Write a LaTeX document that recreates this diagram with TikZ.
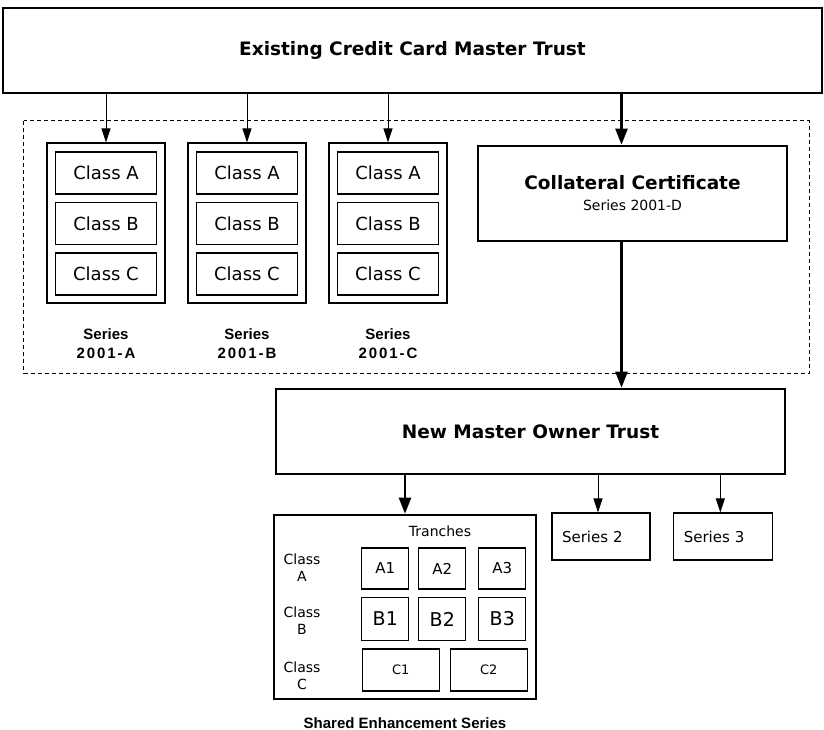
\documentclass[tikz,border=0pt]{standalone}
\usepackage{fontspec}
\setmainfont{DejaVu Sans}
\newfontfamily\lblfont{Liberation Sans}
\newfontfamily\lblwide{Liberation Sans}[LetterSpace=13]
\usetikzlibrary{arrows.meta}
\tikzset{
  thinbox/.style={draw,line width=1.1pt,inner sep=0pt},
  thickbox/.style={draw,line width=2.6pt,inner sep=0pt},
  arr/.style={-{Triangle[length=14pt,width=9pt]},line width=1pt},
  thickarr/.style={-{Triangle[length=16pt,width=12pt]},line width=2.4pt},
  head/.style={font=\fontsize{18.5}{22}\selectfont\bfseries},
  lbl/.style={font=\lblfont\fontsize{15}{19}\selectfont\bfseries,align=center}
}
\begin{document}
\begin{tikzpicture}[x=1pt,y=-1pt]
  \useasboundingbox (0,0) rectangle (824,730);
  \node[thinbox,minimum width=819pt,minimum height=85pt,head] (mt) at (412.5,50.5) {Existing Credit Card Master Trust};
  \draw[line width=1pt,dash pattern=on 4pt off 3pt] (23.5,121) rectangle (809,373);
  % three series in the old trust
  \foreach \s/\x in {A/106,B/247,C/388}{
    \node[thinbox,minimum width=118pt,minimum height=160pt] (s\s) at (\x,223) {};
    \foreach \c/\y in {A/173,B/223.5,C/274}
      \node[thinbox,minimum width=101pt,minimum height=42pt,font=\fontsize{18}{20}\selectfont] (s\s\c) at (\x,\y) {Class \c};
    \node[lbl] (l\s) at (\x,343.5) {Series\\{\lblwide 2001-\s}};
    \draw[arr] (s\s.north |- mt.south) -- (s\s.north);
  }
  \node[thickbox,minimum width=309pt,minimum height=95pt,align=center,font=\fontsize{14}{21}\selectfont] (cc) at (632.5,193.5)
    {{\fontsize{18.5}{21}\selectfont\bfseries Collateral Certificate}\\Series 2001-D};
  \draw[thickarr] ([xshift=-11pt]cc.north |- mt.south) -- ([xshift=-11pt]cc.north);
  \node[thickbox,minimum width=509pt,minimum height=85pt,head] (nmt) at (530.5,431.5) {New Master Owner Trust};
  \draw[thickarr] ([xshift=-11pt]cc.south) -- ([xshift=-11pt]cc.south |- nmt.north);
  % shared enhancement series
  \node[thickbox,minimum width=262pt,minimum height=184pt] (ses) at (405,607) {};
  \draw[thickarr] (ses.north |- nmt.south) -- (ses.north);
  \node[font=\fontsize{14}{17}\selectfont] (tr) at (440,531) {Tranches};
  \foreach \c/\y in {A/568,B/621,C/676}
    \node[align=center,font=\fontsize{14}{17}\selectfont] (r\c) at (302,\y) {Class\\\c};
  \foreach \n/\x in {1/385.3,2/442.3,3/502.3}{
    \node[thinbox,minimum width=47pt,minimum height=41pt,font=\fontsize{15}{17}\selectfont] (tA\n) at (\x,568.5) {A\n};
    \node[thinbox,minimum width=47pt,minimum height=43pt,font=\fontsize{19}{21}\selectfont] (tB\n) at (\x,619) {B\n};
  }
  \node[thinbox,minimum width=77pt,minimum height=42pt,font=\fontsize{13}{15}\selectfont] (tC1) at (400.8,670) {C1};
  \node[thinbox,minimum width=77pt,minimum height=42pt,font=\fontsize{13}{15}\selectfont] (tC2) at (488.7,670) {C2};
  \node[lbl] (sl) at (405,723) {Shared Enhancement Series};
  % other series
  \node[thinbox,minimum height=47pt,text width=78pt,inner xsep=10pt,align=left,font=\fontsize{15}{17}\selectfont] (s2) at (601,536.5) {Series 2};
  \node[thinbox,minimum height=47pt,text width=79pt,inner xsep=10pt,align=left,font=\fontsize{15}{17}\selectfont] (s3) at (723.3,536.5) {Series 3};
  \draw[arr] ([xshift=-3pt]s2.north |- nmt.south) -- ([xshift=-3pt]s2.north);
  \draw[arr] ([xshift=-3pt]s3.north |- nmt.south) -- ([xshift=-3pt]s3.north);
\end{tikzpicture}
\end{document}
